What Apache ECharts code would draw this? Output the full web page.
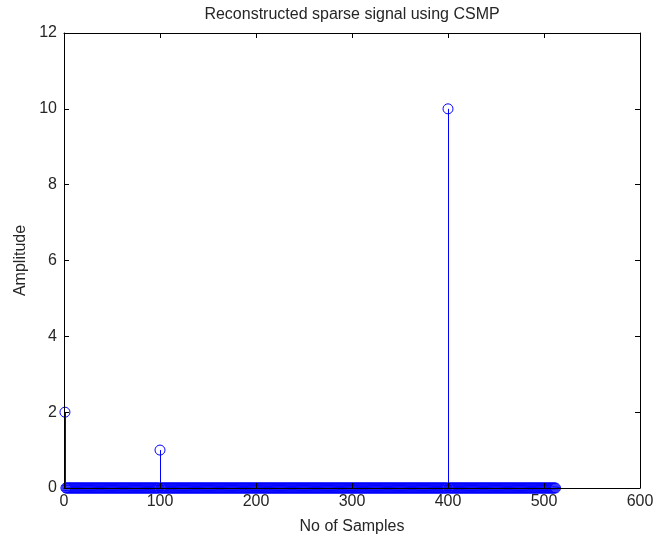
<!DOCTYPE html>
<html><head><meta charset="utf-8">
<script src="https://cdn.jsdelivr.net/npm/echarts@6/dist/echarts.min.js"></script>
<style>html,body{margin:0;padding:0;background:#fff}#c{width:656px;height:537px}</style>
</head><body><div id="c"></div>
<script>
// Sparse signal: length and non-zero entries
const sampleCount = 512;
const spikeIndex = [1, 100, 400];
const spikeValue = [2, 1, 10];
const xTicks = [0, 100, 200, 300, 400, 500, 600];
const yTicks = [0, 2, 4, 6, 8, 10, 12];

const signal = [];
for (let i = 1; i <= sampleCount; i++) {
  const k = spikeIndex.indexOf(i);
  signal.push([i, k >= 0 ? spikeValue[k] : 0]);
}

const font = 'Liberation Sans, Arial, sans-serif';
const txt = '#262626';
const chart = echarts.init(document.getElementById('c'), null, {renderer: 'canvas'});
const axisCommon = {
  axisLine: {show: true, onZero: false, lineStyle: {color: '#000', width: 1}},
  axisTick: {show: true, inside: true, length: 5, lineStyle: {color: '#000'}},
  splitLine: {show: false},
  z: 10
};
chart.setOption({
  animation: false,
  grid: {left: 64, top: 33, width: 576, height: 455, containLabel: false, outerBoundsMode: 'none'},
  xAxis: [
    Object.assign({type: 'value', min: xTicks[0], max: xTicks[xTicks.length - 1], interval: 100, position: 'bottom',
      name: 'No of Samples', nameLocation: 'middle', nameGap: 31,
      nameTextStyle: {color: txt, fontSize: 16, fontFamily: font, verticalAlign: 'top'},
      axisLabel: {color: txt, fontSize: 16, fontFamily: font, margin: 6}}, axisCommon),
    Object.assign({type: 'value', min: xTicks[0], max: xTicks[xTicks.length - 1], interval: 100, position: 'top',
      name: 'Reconstructed sparse signal using CSMP', nameLocation: 'middle', nameGap: 10,
      nameTextStyle: {color: txt, fontSize: 16, fontFamily: font, verticalAlign: 'bottom'},
      axisLabel: {show: false}}, axisCommon)
  ],
  yAxis: [
    Object.assign({type: 'value', min: yTicks[0], max: yTicks[yTicks.length - 1], interval: 2, position: 'left',
      name: 'Amplitude', nameLocation: 'middle', nameGap: 35, nameRotate: 90,
      nameTextStyle: {color: txt, fontSize: 16, fontFamily: font, verticalAlign: 'bottom'},
      axisLabel: {color: txt, fontSize: 16, fontFamily: font, margin: 7}}, axisCommon),
    Object.assign({type: 'value', min: yTicks[0], max: yTicks[yTicks.length - 1], interval: 2, position: 'right',
      axisLabel: {show: false}}, axisCommon)
  ],
  series: [{
    type: 'custom',
    clip: false,
    data: signal,
    renderItem: function (params, api) {
      const x = api.value(0), y = api.value(1);
      const p0 = api.coord([x, 0]);
      const p1 = api.coord([x, y]);
      const children = [];
      if (y !== 0) {
        const sx = Math.round(p0[0]) + 0.5;
        children.push({type: 'line', shape: {x1: sx, y1: p0[1], x2: sx, y2: p1[1]},
          style: {stroke: '#0000ff', lineWidth: 1}});
      }
      children.push({type: 'circle', shape: {cx: p1[0], cy: p1[1], r: 5},
        style: {fill: 'none', stroke: '#0000ff', lineWidth: 1}});
      return {type: 'group', children: children};
    }
  }]
});
</script></body></html>
